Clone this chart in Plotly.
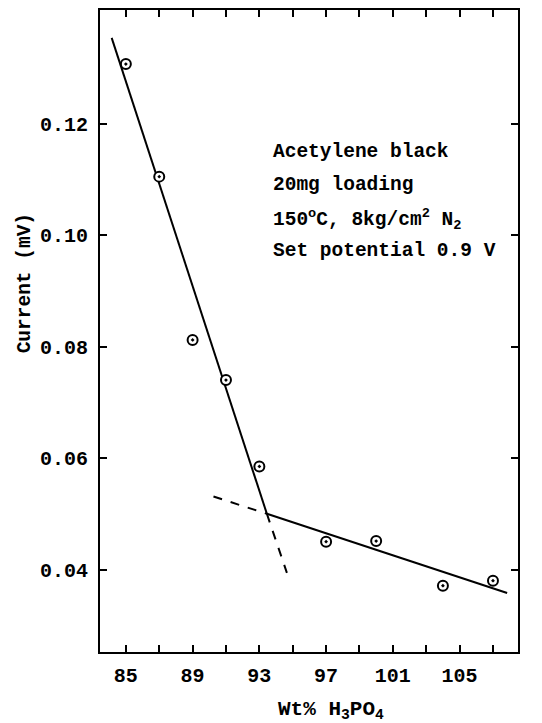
import plotly.graph_objects as go

# Measured data points (Wt% H3PO4, current mV)
wt_pct = [85, 87, 89, 91, 93, 97, 100, 104, 107]
current = [0.1307, 0.1105, 0.0812, 0.0740, 0.0585, 0.0450, 0.0451, 0.0371, 0.0380]

# Fitted straight lines
steep_x = [84.15, 93.45]
steep_y = [0.1354, 0.0500]
shallow_x = [93.45, 107.85]
shallow_y = [0.0500, 0.0358]
steep_ext_x = [93.45, 94.65]
steep_ext_y = [0.0500, 0.0394]
shallow_ext_x = [90.25, 93.45]
shallow_ext_y = [0.0531, 0.0500]

x_tick_vals = [85, 87, 89, 91, 93, 95, 97, 99, 101, 103, 105, 107]
x_tick_text = ["85", "", "89", "", "93", "", "97", "", "101", "", "105", ""]
y_tick_vals = [0.04, 0.06, 0.08, 0.10, 0.12]
y_tick_text = ["0.04", "0.06", "0.08", "0.10", "0.12"]

note_lines = [
    "Acetylene black",
    "20mg loading",
    "150<sup>o</sup>C, 8kg/cm<sup>2</sup> N<sub>2</sub>",
    "Set potential 0.9 V",
]

FONT = "Liberation Mono"
fig = go.Figure()

line_style = dict(color="black", width=2)
dash_style = dict(color="black", width=2, dash="dash")
fig.add_trace(go.Scatter(x=steep_x, y=steep_y, mode="lines", line=line_style, showlegend=False))
fig.add_trace(go.Scatter(x=shallow_x, y=shallow_y, mode="lines", line=line_style, showlegend=False))
fig.add_trace(go.Scatter(x=steep_ext_x, y=steep_ext_y, mode="lines", line=dash_style, showlegend=False))
fig.add_trace(go.Scatter(x=shallow_ext_x, y=shallow_ext_y, mode="lines", line=dash_style, showlegend=False))
fig.add_trace(go.Scatter(
    x=wt_pct, y=current, mode="markers", showlegend=False,
    marker=dict(symbol="circle-dot", size=10, color="white",
                line=dict(color="black", width=2)),
))

note_y = [0.7795, 0.728, 0.674, 0.624]
for txt, yy in zip(note_lines, note_y):
    fig.add_annotation(text=f"<b>{txt}</b>", xref="paper", yref="paper",
                       x=0.41, y=yy, xanchor="left", yanchor="middle",
                       showarrow=False, font=dict(family=FONT, size=19.5, color="black"))

fig.add_annotation(text="<b>Current (mV)</b>", xref="paper", yref="paper",
                   x=-0.179, y=0.5745, textangle=-90, xanchor="center", yanchor="middle",
                   showarrow=False, font=dict(family=FONT, size=19.5, color="black"))
fig.add_annotation(text="<b>Wt% H<sub>3</sub>PO<sub>4</sub></b>", xref="paper", yref="paper",
                   x=0.553, y=-0.091, xanchor="center", yanchor="middle",
                   showarrow=False, font=dict(family=FONT, size=21, color="black"))

axis_common = dict(showline=True, linecolor="black", linewidth=2, mirror="allticks",
                   ticks="inside", ticklen=7, tickwidth=2, tickcolor="black",
                   showgrid=False, zeroline=False,
                   tickfont=dict(family=FONT, size=20, color="black"))

fig.update_xaxes(range=[83.45, 108.5], tickmode="array", tickvals=x_tick_vals,
                 ticktext=[f"<b>{t}</b>" if t else "" for t in x_tick_text],
                 ticklabelstandoff=4, **axis_common)
fig.update_yaxes(range=[0.0252, 0.1404], tickmode="array", tickvals=y_tick_vals,
                 ticktext=[f"<b>{t}</b>" for t in y_tick_text],
                 ticklabelstandoff=6, **axis_common)

fig.update_layout(width=534, height=715, margin=dict(l=92, r=24, t=0, b=71),
                  plot_bgcolor="white", paper_bgcolor="white")

fig.write_html("out.html")
